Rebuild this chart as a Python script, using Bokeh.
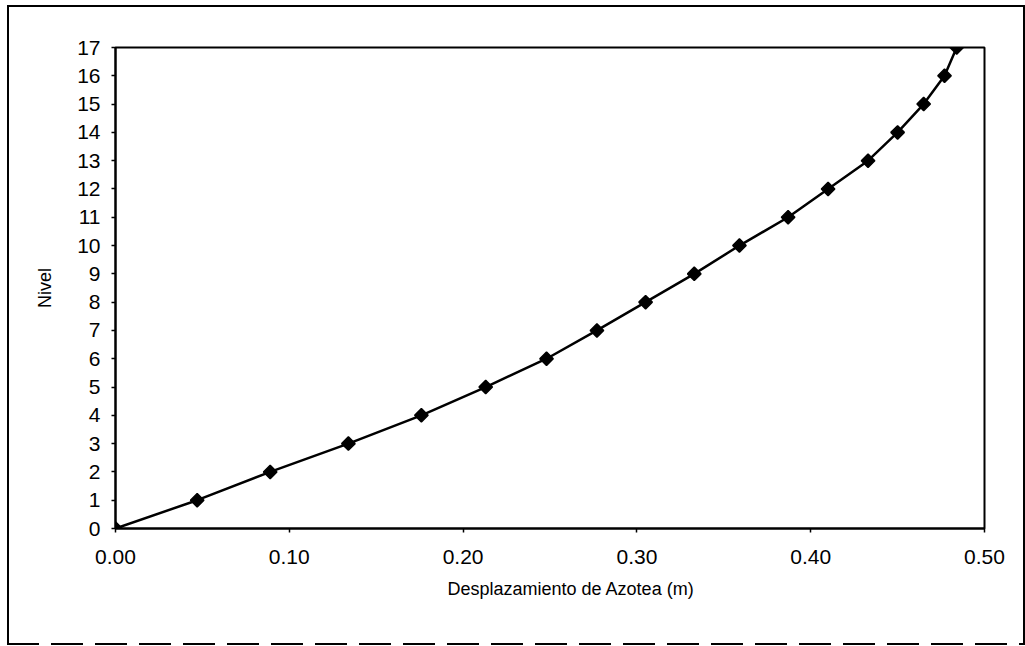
import math
from bokeh.plotting import figure
from bokeh.models import Range1d, FixedTicker, Title, InlineStyleSheet
from bokeh.embed import file_html
from bokeh.resources import INLINE

nivel = [0, 1, 2, 3, 4, 5, 6, 7, 8, 9, 10, 11, 12, 13, 14, 15, 16, 17]
desplazamiento = [0.000, 0.047, 0.089, 0.134, 0.176, 0.213, 0.248, 0.277, 0.305,
                  0.333, 0.359, 0.387, 0.410, 0.433, 0.450, 0.465, 0.477, 0.484]
x_ticks = [0.0, 0.1, 0.2, 0.3, 0.4, 0.5]
y_ticks = list(range(0, 18))
x_title = "Desplazamiento de Azotea (m)"
y_title = "Nivel"

FONT = "Liberation Sans"

p = figure(frame_width=869, frame_height=481,
           min_border_left=115, min_border_right=41,
           min_border_top=47, min_border_bottom=118,
           x_range=Range1d(0, 0.5), y_range=Range1d(0, 17),
           output_backend="svg", toolbar_location=None)

frame_css = """
:host { position: relative; }
:host::after {
  content: ""; position: absolute; left: 7px; top: 5px; width: 1018px; height: 639px;
  border-top: 2px solid black; border-left: 2px solid black; border-right: 2px solid black;
  box-sizing: border-box; pointer-events: none; z-index: 100;
}
:host::before {
  content: ""; position: absolute; left: 7px; top: 643px; width: 1018px; height: 2px;
  background: repeating-linear-gradient(to right, black 0 32px, transparent 32px 44px);
  pointer-events: none; z-index: 100;
}
"""
p.stylesheets = [InlineStyleSheet(css=frame_css)]

p.background_fill_color = "white"
p.border_fill_color = "white"
p.outline_line_color = "black"
p.outline_line_width = 2
p.xgrid.visible = False
p.ygrid.visible = False

p.line(desplazamiento, nivel, line_color="black", line_width=2.5)
p.scatter(desplazamiento, nivel, marker="square", angle=math.pi / 4, size=9.5,
          fill_color="black", line_color="black", line_width=1.5)

for ax in (p.xaxis[0], p.yaxis[0]):
    ax.axis_line_color = "black"
    ax.axis_line_width = 2
    ax.major_tick_line_color = "black"
    ax.major_tick_line_width = 1.5
    ax.major_tick_out = 4
    ax.major_tick_in = 0
    ax.minor_tick_line_color = None
    ax.major_label_text_font = FONT
    ax.major_label_text_font_size = "21px"
    ax.major_label_text_color = "black"

p.xaxis.ticker = FixedTicker(ticks=x_ticks)
p.xaxis.major_label_overrides = {t: f"{t:.2f}" for t in x_ticks}
p.xaxis.major_label_standoff = 17
p.yaxis.ticker = FixedTicker(ticks=y_ticks)
p.yaxis.major_label_standoff = 11

p.yaxis.axis_label = y_title
p.yaxis.axis_label_text_font = FONT
p.yaxis.axis_label_text_font_size = "18px"
p.yaxis.axis_label_text_font_style = "normal"
p.yaxis.axis_label_text_color = "black"
p.yaxis.axis_label_standoff = 19

p.add_layout(Title(text=x_title, align="left", offset=332, standoff=20,
                   text_font=FONT, text_font_size="18px", text_font_style="normal",
                   text_color="black"), "below")

open("out.html", "w").write(file_html(p, INLINE))
